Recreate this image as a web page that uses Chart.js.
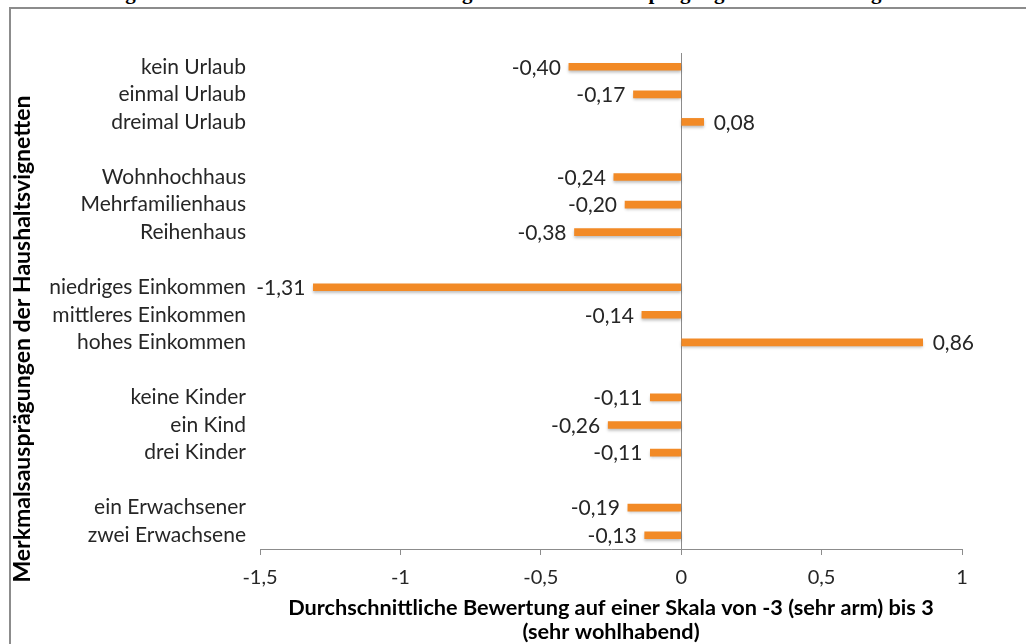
<!DOCTYPE html>
<html>
<head>
<meta charset="utf-8">
<script src="https://cdn.jsdelivr.net/npm/chart.js@4.4.1/dist/chart.umd.min.js"></script>
<style>
    html, body { margin: 0; padding: 0; background: #fff; }
    body { width: 1026px; height: 644px; position: relative; overflow: hidden; }
    #frame { position: absolute; left: 9px; top: 7px; right: -20px; bottom: -20px; border-left: 2px solid #8c8c8c; border-top: 2px solid #8c8c8c; }
    #caption { position: absolute; left: 0; top: 0; width: 1026px; height: 6px; overflow: hidden; }
    #caption span { position: absolute; left: 40px; top: -20px; white-space: nowrap; font: bold 21px "Liberation Serif", serif; color: #000; }
    #wrap { position: absolute; left: 0; top: 0; width: 1026px; height: 644px; }
</style>
</head>
<body>
<div id="caption"><span>Abbildung 4: Mittelwerte der Armutsbewertung nach Merkmalsausprägung der Haushaltsvignetten</span></div>
<div id="frame"></div>
<div id="wrap"><canvas id="Chart"></canvas></div>
<script>
// Merkmalsausprägungen (leere Einträge = Abstand zwischen den Gruppen)
const categories = [
    'kein Urlaub', 'einmal Urlaub', 'dreimal Urlaub', '',
    'Wohnhochhaus', 'Mehrfamilienhaus', 'Reihenhaus', '',
    'niedriges Einkommen', 'mittleres Einkommen', 'hohes Einkommen', '',
    'keine Kinder', 'ein Kind', 'drei Kinder', '',
    'ein Erwachsener', 'zwei Erwachsene'
];
const meanValues = [
    -0.40, -0.17, 0.08, null,
    -0.24, -0.20, -0.38, null,
    -1.31, -0.14, 0.86, null,
    -0.11, -0.26, -0.11, null,
    -0.19, -0.13
];
const xTickLabels = { '-1.5': '-1,5', '-1': '-1', '-0.5': '-0,5', '0': '0', '0.5': '0,5', '1': '1' };
const yAxisTitle = 'Merkmalsausprägungen der Haushaltsvignetten';
const xAxisTitle = ['Durchschnittliche Bewertung auf einer Skala von -3 (sehr arm) bis 3', '(sehr wohlhabend)'];

const fontFamily = 'Lato, "Open Sans", sans-serif';
const barColor = '#F28A26';

// Werte neben die Balken schreiben
const valueLabels = {
    id: 'valueLabels',
    afterDatasetsDraw(chart) {
        const ctx = chart.ctx;
        const meta = chart.getDatasetMeta(0);
        ctx.save();
        ctx.font = '21px ' + fontFamily;
        ctx.fillStyle = '#262626';
        ctx.textBaseline = 'middle';
        meta.data.forEach((bar, i) => {
            const v = meanValues[i];
            if (v === null) return;
            const txt = v.toFixed(2).replace('.', ',');
            if (v < 0) {
                ctx.textAlign = 'right';
                ctx.fillText(txt, bar.x - 8, bar.y + 1);
            } else {
                ctx.textAlign = 'left';
                ctx.fillText(txt, bar.x + 10, bar.y + 1);
            }
        });
        ctx.restore();
    }
};

// Schatten unter den Balken
const barShadow = {
    id: 'barShadow',
    beforeDatasetsDraw(chart) {
        chart.ctx.save();
        chart.ctx.shadowColor = 'rgba(0,0,0,0.25)';
        chart.ctx.shadowBlur = 3;
        chart.ctx.shadowOffsetY = 2;
    },
    afterDatasetsDraw(chart) {
        chart.ctx.restore();
    }
};

// gedrehter Titel der y-Achse
const yTitle = {
    id: 'yTitle',
    afterDraw(chart) {
        const ctx = chart.ctx;
        ctx.save();
        ctx.translate(23, 339);
        ctx.rotate(-Math.PI / 2);
        ctx.font = 'bold 23px ' + fontFamily;
        ctx.fillStyle = '#000';
        ctx.textAlign = 'center';
        ctx.textBaseline = 'middle';
        ctx.fillText(yAxisTitle, 0, 0);
        ctx.restore();
    }
};

const ctx = document.getElementById('Chart').getContext('2d');

const chartOptions = {
    type: 'bar',
    data: {
        labels: categories,
        datasets: [{
            data: meanValues,
            backgroundColor: barColor,
            borderWidth: 0,
            barThickness: 7
        }]
    },
    options: {
        indexAxis: 'y',
        responsive: true,
        maintainAspectRatio: false,
        animation: false,
        layout: { padding: { left: 0, right: 64, top: 53, bottom: 0 } },
        plugins: {
            legend: { display: false },
            tooltip: { enabled: false }
        },
        scales: {
            x: {
                min: -1.5,
                max: 1,
                afterFit(scale) { scale.height = 95; },
                ticks: {
                    stepSize: 0.5,
                    padding: 11,
                    color: '#262626',
                    font: { family: fontFamily, size: 20 },
                    callback: (v) => xTickLabels[String(v)]
                },
                grid: {
                    color: (c) => (c.tick && c.tick.value === 0) ? '#8c8c8c' : 'rgba(0,0,0,0)',
                    tickColor: '#8c8c8c',
                    tickLength: 6,
                    drawTicks: true
                },
                border: { display: true, color: '#8c8c8c', width: 1 },
                title: {
                    display: true,
                    text: xAxisTitle,
                    color: '#000',
                    padding: { top: 0, bottom: 0 },
                    font: { family: fontFamily, size: 21.7, weight: 'bold', lineHeight: 24 / 21.7 }
                }
            },
            y: {
                afterFit(scale) { scale.width = 260; },
                ticks: {
                    padding: 14,
                    color: '#262626',
                    autoSkip: false,
                    font: { family: fontFamily, size: 21 }
                },
                grid: { display: false, drawTicks: false },
                border: { display: false }
            }
        }
    },
    plugins: [barShadow, valueLabels, yTitle]
};

const myChart = new Chart(ctx, chartOptions);
</script>
</body>
</html>
